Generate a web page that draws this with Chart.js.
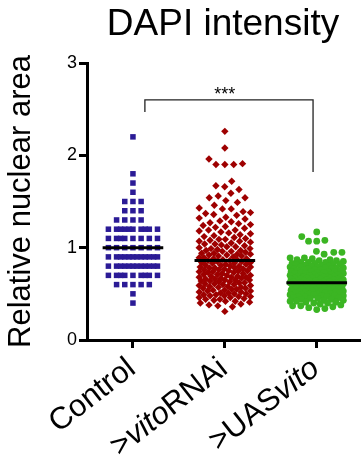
<!DOCTYPE html>
<html>
<head>
<meta charset="utf-8">
<script src="https://cdn.jsdelivr.net/npm/chart.js@4/dist/chart.umd.min.js"></script>
<style>
    html, body { margin: 0; padding: 0; background: #fff; }
</style>
</head>
<body>
<canvas id="chartCanvas" width="363" height="460"></canvas>
<script>
const categories = ['Control', '>vitoRNAi', '>UASvito'];
const italicWord = 'vito';
const yTicks = [0, 1, 2, 3];

// Control values sit on 0.1 steps, one row per step
const controlValues = [
    2.2, 1.8, 1.7, 1.6,
    1.5, 1.5, 1.5,
    1.4, 1.4, 1.4,
    1.3, 1.3, 1.3, 1.3,
    1.2, 1.2, 1.2, 1.2, 1.2, 1.2, 1.2, 1.2, 1.2, 1.2,
    1.1, 1.1, 1.1, 1.1, 1.1, 1.1, 1.1, 1.1,
    1.0, 1.0, 1.0, 1.0, 1.0, 1.0, 1.0,
    0.9, 0.9, 0.9, 0.9, 0.9, 0.9, 0.9, 0.9, 0.9, 0.9, 0.9, 0.9,
    0.8, 0.8, 0.8, 0.8, 0.8, 0.8, 0.8, 0.8, 0.8, 0.8, 0.8, 0.8,
    0.7, 0.7, 0.7, 0.7, 0.7, 0.7, 0.7, 0.7, 0.7,
    0.6, 0.6, 0.6, 0.6, 0.6,
    0.5, 0.4
];

const rnaiValues = [
    2.26, 2.08, 1.96, 1.90, 1.90, 1.91, 1.90, 1.72, 1.67, 1.66, 1.63,
    1.59, 1.56, 1.54, 1.54, 1.51, 1.49, 1.46, 1.43, 1.42, 1.42,
    1.39, 1.38, 1.37, 1.36, 1.35, 1.33, 1.32, 1.31,
    1.29, 1.28, 1.27, 1.26, 1.25, 1.24, 1.23, 1.22, 1.21,
    1.19, 1.19, 1.18, 1.17, 1.16, 1.15, 1.14, 1.13, 1.12, 1.11, 1.10,
    1.09, 1.09, 1.08, 1.07, 1.07, 1.06, 1.05, 1.04, 1.04, 1.03, 1.02, 1.01, 1.01, 1.00,
    0.99, 0.99, 0.98, 0.97, 0.97, 0.96, 0.96, 0.95, 0.94, 0.94, 0.93, 0.93, 0.92, 0.92, 0.91, 0.91, 0.90,
    0.89, 0.89, 0.88, 0.88, 0.87, 0.87, 0.86, 0.86, 0.85, 0.85,
    0.84, 0.84, 0.83, 0.83, 0.82, 0.82, 0.81, 0.81, 0.80, 0.80,
    0.79, 0.79, 0.78, 0.78, 0.78, 0.77, 0.77, 0.76, 0.76, 0.75, 0.75,
    0.75, 0.74, 0.74, 0.73, 0.73, 0.72, 0.72, 0.71, 0.71, 0.70, 0.70,
    0.69, 0.69, 0.68, 0.68, 0.68, 0.67, 0.67, 0.66, 0.66, 0.65, 0.65,
    0.65, 0.64, 0.64, 0.63, 0.63, 0.62, 0.62, 0.61, 0.61, 0.60, 0.60,
    0.59, 0.59, 0.58, 0.58, 0.57, 0.57, 0.56, 0.56, 0.55, 0.55,
    0.54, 0.54, 0.53, 0.53, 0.52, 0.52, 0.51, 0.51, 0.50, 0.50,
    0.49, 0.49, 0.48, 0.48, 0.47, 0.47, 0.46, 0.46, 0.45, 0.44, 0.44, 0.43, 0.42, 0.42, 0.41, 0.40,
    0.39, 0.38, 0.37, 0.36, 0.31
];

const uasValues = [
    1.17, 1.12, 1.08, 1.07, 1.07,
    0.96, 0.95, 0.95, 0.93,
    0.89, 0.89, 0.88, 0.87, 0.87, 0.86, 0.86, 0.85,
    0.84, 0.84, 0.84, 0.83, 0.83, 0.82, 0.82, 0.82, 0.81, 0.81, 0.80, 0.80,
    0.79, 0.79, 0.79, 0.78, 0.78, 0.78, 0.77, 0.77, 0.77, 0.76, 0.76, 0.76, 0.75, 0.75,
    0.74, 0.74, 0.74, 0.74, 0.73, 0.73, 0.73, 0.72, 0.72, 0.72, 0.71, 0.71, 0.71, 0.70, 0.70, 0.70,
    0.69, 0.69, 0.69, 0.68, 0.68, 0.68, 0.68, 0.67, 0.67, 0.67, 0.67, 0.66, 0.66, 0.66, 0.66, 0.65, 0.65, 0.65,
    0.64, 0.64, 0.64, 0.64, 0.63, 0.63, 0.63, 0.63, 0.62, 0.62, 0.62, 0.62, 0.61, 0.61, 0.61, 0.60, 0.60, 0.60,
    0.59, 0.59, 0.59, 0.59, 0.58, 0.58, 0.58, 0.58, 0.57, 0.57, 0.57, 0.57, 0.56, 0.56, 0.56, 0.55, 0.55, 0.55,
    0.54, 0.54, 0.54, 0.54, 0.53, 0.53, 0.53, 0.52, 0.52, 0.52, 0.51, 0.51, 0.51, 0.50, 0.50, 0.50,
    0.49, 0.49, 0.49, 0.48, 0.48, 0.48, 0.47, 0.47, 0.47, 0.46, 0.46, 0.45, 0.45,
    0.44, 0.44, 0.43, 0.43, 0.42, 0.42, 0.41, 0.41, 0.40, 0.40,
    0.39, 0.38, 0.37, 0.37, 0.36, 0.35,
    0.34, 0.33
];

// Horizontal line drawn through each group
const centerValues = [1.0, 0.86, 0.62];

// Significance bracket between Control and >UASvito
const bracketX = [1.13, 2.96];
const bracketTop = 2.6;
const bracketEnds = [2.47, 1.82];
const bracketText = '***';

const FONT = '"Liberation Sans", Arial, sans-serif';

const groups = [
    { values: controlValues, color: '#2B1B96', style: 'rect', radius: 3.9, gap: 8.3, half: 25 },
    { values: rnaiValues, color: '#9E0000', style: 'rectRot', radius: 3.7, gap: 9, half: 26 },
    { values: uasValues, color: '#3BB523', style: 'circle', radius: 3.4, gap: 8.3, half: 27 }
];

/**
 * @brief Draws group names under the axis, gene name in italics.
 */
const groupLabels = {
    id: 'groupLabels',
    afterDraw(chart) {
        const ctx = chart.ctx;
        const xs = chart.scales.x;
        const ys = chart.scales.y;
        ctx.save();
        ctx.fillStyle = '#000';
        ctx.textBaseline = 'middle';
        ctx.textAlign = 'left';
        categories.forEach((name, i) => {
            const parts = name.split(new RegExp('(' + italicWord + ')')).filter(p => p);
            const fonts = parts.map(p => (p === italicWord ? 'italic ' : '') + '31px ' + FONT);
            let total = 0;
            const widths = parts.map((p, k) => {
                ctx.font = fonts[k];
                const w = ctx.measureText(p).width;
                total += w;
                return w;
            });
            ctx.save();
            ctx.translate(xs.getPixelForValue(i + 1) - 1, chart.chartArea.bottom + 25);
            ctx.rotate(-38 * Math.PI / 180);
            let x = -total;
            parts.forEach((p, k) => {
                ctx.font = fonts[k];
                ctx.fillText(p, x, 0);
                x += widths[k];
            });
            ctx.restore();
        });

        // stars over the bracket
        ctx.font = '18px ' + FONT;
        ctx.textAlign = 'center';
        ctx.textBaseline = 'alphabetic';
        ctx.fillText(bracketText, xs.getPixelForValue(2), ys.getPixelForValue(bracketTop));
        ctx.restore();
    }
};

const lineSets = centerValues.map((m, i) => ({
    data: [{ x: i + 1 - 0.33, y: m }, { x: i + 1 + 0.33, y: m }],
    showLine: true,
    borderColor: '#000',
    borderWidth: 3,
    pointRadius: 0,
    order: 0
}));

const bracketSet = {
    data: [
        { x: bracketX[0], y: bracketEnds[0] },
        { x: bracketX[0], y: bracketTop },
        { x: bracketX[1], y: bracketTop },
        { x: bracketX[1], y: bracketEnds[1] }
    ],
    showLine: true,
    borderColor: '#222',
    borderWidth: 1.3,
    pointRadius: 0,
    order: 0
};

const pointSets = groups.map(g => ({
    data: [],
    showLine: false,
    pointStyle: g.style,
    pointRadius: g.radius,
    pointBorderWidth: 0,
    backgroundColor: g.color,
    borderColor: g.color,
    borderWidth: 0,
    order: 1
}));

const ctx = document.getElementById('chartCanvas').getContext('2d');
const chart = new Chart(ctx, {
    type: 'scatter',
    data: { datasets: [...lineSets, bracketSet, ...pointSets] },
    options: {
        responsive: false,
        animation: false,
        events: [],
        plugins: {
            legend: { display: false },
            tooltip: { enabled: false },
            title: {
                display: true,
                text: 'DAPI intensity',
                fullSize: false,
                color: '#000',
                font: { family: FONT, size: 37, weight: 'normal' },
                padding: { top: 3, bottom: 15.6 }
            }
        },
        scales: {
            x: {
                type: 'linear',
                min: 0.5,
                max: 3.46,
                afterBuildTicks: s => { s.ticks = categories.map((c, i) => ({ value: i + 1 })); },
                afterFit: s => { s.height = 120; },
                ticks: { display: false },
                grid: { drawOnChartArea: false, color: '#000', lineWidth: 3, tickLength: 8 },
                border: { color: '#000', width: 3 }
            },
            y: {
                min: 0,
                max: 3,
                afterBuildTicks: s => { s.ticks = yTicks.map(v => ({ value: v })); },
                afterFit: s => { s.width = 87; },
                ticks: { color: '#000', padding: 2, font: { family: FONT, size: 18 } },
                grid: { drawOnChartArea: false, color: '#000', lineWidth: 3, tickLength: 8 },
                border: { color: '#000', width: 3 },
                title: {
                    display: true,
                    text: 'Relative nuclear area',
                    color: '#000',
                    font: { family: FONT, size: 31 },
                    padding: { top: 3, bottom: 0 }
                }
            }
        }
    },
    plugins: [groupLabels]
});

/**
 * @brief Spreads the points of one group sideways so they do not sit on top of each other.
 * @return Pixel offsets from the group centre, in the order of the values.
 */
function swarmOffsets(values, gap, half) {
    const ys = chart.scales.y;
    const order = values.map((v, i) => i).sort((a, b) => values[a] - values[b]);
    const placed = [];
    const offsets = new Array(values.length);
    order.forEach((idx, n) => {
        const y = ys.getPixelForValue(values[idx]);
        const near = placed.filter(p => Math.abs(p.y - y) < gap);
        const side = n % 2 ? 1 : -1;
        let spots = [0];
        near.forEach(p => {
            const dx = Math.sqrt(gap * gap - (p.y - y) ** 2);
            spots.push(p.x - dx, p.x + dx);
        });
        spots = spots.filter(x => Math.abs(x) <= half + 0.01)
            .sort((a, b) => (Math.abs(a) - Math.abs(b)) || side * (b - a));
        const free = x => near.every(p => Math.hypot(p.x - x, p.y - y) >= gap - 0.01);
        let best = spots.find(free);
        if (best === undefined) {
            // no clean spot left, take the one with the most room
            let room = -1;
            for (let k = 0; k <= half * 4; k++) {
                const x = side * (half - k * 0.5);
                const r = Math.min(...near.map(p => Math.hypot(p.x - x, p.y - y)));
                if (r > room + 1e-6) {
                    room = r;
                    best = x;
                }
            }
        }
        placed.push({ x: best, y });
        offsets[idx] = best;
    });
    return offsets;
}

const xs = chart.scales.x;
groups.forEach((g, gi) => {
    const cx = xs.getPixelForValue(gi + 1);
    const offs = swarmOffsets(g.values, g.gap, g.half);
    pointSets[gi].data = g.values.map((v, i) => ({ x: xs.getValueForPixel(cx + offs[i]), y: v }));
});
chart.update();
</script>
</body>
</html>
